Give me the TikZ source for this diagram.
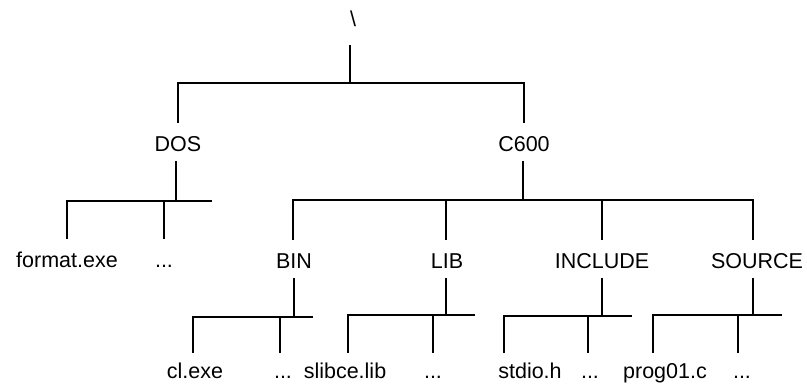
\documentclass[tikz,border=0pt]{standalone}
\usepackage{fontspec}
\setmainfont{Liberation Sans}
\begin{document}
\begin{tikzpicture}[x=1pt,y=-1pt,
  lbl/.style={font=\fontsize{21.5}{26}\selectfont, anchor=base, inner xsep=0pt,
              inner ysep=10pt, text height=18pt, text depth=0pt, outer sep=0pt},
  leaf/.style={lbl, inner ysep=7pt},
  link/.style={line width=1.4pt, line join=miter}]
\useasboundingbox (0,0) rectangle (807,389);

% labels
\node[lbl, inner ysep=19pt] (root) at (353,26) {\textbackslash};
\node[lbl] (dos)  at (178,151) {DOS};
\node[lbl] (c600) at (524,151) {C600};
\node[lbl] (fmt)  at (67,267)  {format.exe};
\node[lbl] (dosd) at (164,267) {...};
\node[lbl] (bin)  at (294,268) {BIN};
\node[lbl] (lib)  at (447,268) {LIB};
\node[lbl] (inc)  at (602,268) {INCLUDE};
\node[lbl] (src)  at (757,268) {SOURCE};
\node[leaf] (clexe) at (195,378) {cl.exe};
\node[leaf] (bind)  at (283,378) {...};
\node[leaf] (slib)  at (345,378) {slibce.lib};
\node[leaf] (libd)  at (433,378) {...};
\node[leaf] (stdio) at (530,378) {stdio.h};
\node[leaf] (incd)  at (590,378) {...};
\node[leaf] (prog)  at (665,378) {prog01.c};
\node[leaf] (srcd)  at (742,378) {...};

% junctions and bar ends
\coordinate (rb) at (350,83);
\coordinate (dosR) at (212,201);
\coordinate (dosJ) at (176,201);
\coordinate (c6J) at (523,200);
\coordinate (c6L) at (293,200);
\coordinate (c6S) at (753,200);
\coordinate (c6B) at (446,200);
\coordinate (binL) at (193,317);
\coordinate (binD) at (280,317);
\coordinate (binR) at (313,317);
\coordinate (libL) at (348,315);
\coordinate (libD) at (433,315);
\coordinate (libR) at (475,315);
\coordinate (libJ) at (446,315);
\coordinate (incL) at (504,316);
\coordinate (incD) at (588,316);
\coordinate (incR) at (632,316);
\coordinate (srcL) at (653,315);
\coordinate (srcD) at (738,315);
\coordinate (srcR) at (782,315);
\coordinate (srcJ) at (753,315);

% root
\draw[link] (root.south -| rb) -- (rb);
\draw[link] (dos.north) -- (dos.north |- rb) -- (c600.north |- rb) -- (c600.north);

% DOS
\draw[link] (dos.south -| dosJ) -- (dosJ);
\draw[link] (fmt.north) -- (fmt.north |- dosR) -- (dosR);
\draw[link] (dosd.north) -- (dosd.north |- dosR);

% C600
\draw[link] (c600.south -| c6J) -- (c6J);
\draw[link] (bin.north -| c6L) -- (c6L) -- (c6S) -- (src.north -| c6S);
\draw[link] (lib.north -| c6B) -- (c6B);
\draw[link] (inc.north) -- (inc.north |- c6L);

% BIN
\draw[link] (bin.south) -- (bin.south |- binL);
\draw[link] (clexe.north -| binL) -- (binL) -- (binR);
\draw[link] (bind.north -| binD) -- (binD);

% LIB
\draw[link] (lib.south -| libJ) -- (libJ);
\draw[link] (slib.north -| libL) -- (libL) -- (libR);
\draw[link] (libd.north -| libD) -- (libD);

% INCLUDE
\draw[link] (inc.south) -- (inc.south |- incL);
\draw[link] (stdio.north -| incL) -- (incL) -- (incR);
\draw[link] (incd.north -| incD) -- (incD);

% SOURCE
\draw[link] (src.south -| srcJ) -- (srcJ);
\draw[link] (prog.north -| srcL) -- (srcL) -- (srcR);
\draw[link] (srcd.north -| srcD) -- (srcD);
\end{tikzpicture}
\end{document}
